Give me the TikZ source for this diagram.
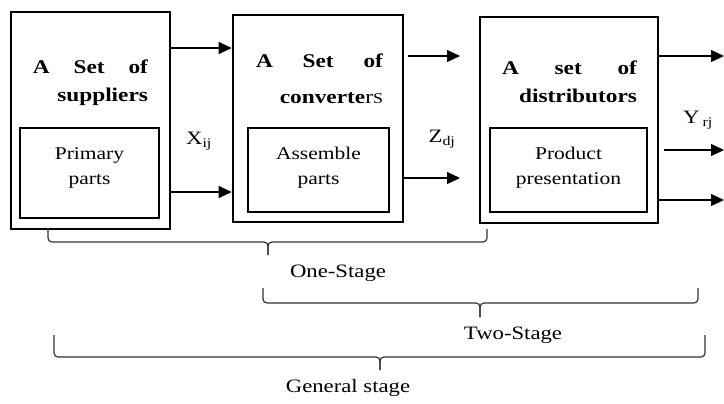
\documentclass[tikz,border=0pt]{standalone}
\usepackage{fontspec}
\setmainfont{Liberation Serif}[FakeStretch=1.2]
\usetikzlibrary{arrows.meta}
\tikzset{
  outerbox/.style 2 args={draw, line width=2.6bp, minimum width=#1, minimum height=#2, inner sep=0pt},
  innerbox/.style 2 args={draw, line width=2.2bp, minimum width=#1, minimum height=#2, inner sep=0pt},
  boxtitle/.style={font=\fontsize{19.5}{28}\selectfont\bfseries, align=right, text width=#1, inner sep=0pt},
  boxnote/.style={font=\fontsize{18}{25}\selectfont, align=center, inner sep=0pt},
  flow/.style={line width=1.2bp, -{Triangle[length=13bp,width=12bp]}},
  stagebrace/.style={line width=1.2bp, draw=black!80, rounded corners=4bp},
  lbl/.style={font=\fontsize{19}{20}\selectfont, inner sep=0pt}
}

\begin{document}
\begin{tikzpicture}[x=1bp,y=-1bp]
\useasboundingbox (0,0) rectangle (724,403);
% the three sets
\node[outerbox={159bp}{217bp}] (sup) at (90.5,120.5) {};
\node[outerbox={170bp}{207bp}] (conv) at (318,118.5) {};
\node[outerbox={178bp}{206bp}] (dist) at (569,120) {};
\node[innerbox={139bp}{90bp}] (supin) at (89.5,173) {};
\node[innerbox={141bp}{84bp}] (convin) at (318.5,170) {};
\node[innerbox={157bp}{84bp}] (distin) at (568.5,170) {};
\node[boxtitle=115bp] (suptitle) at (90.5,83) {\makebox[115bp][s]{A\hfill Set\hfill of}\\suppliers};
\node[boxtitle=127bp] (convtitle) at (319.5,79) {\makebox[127bp][s]{A\hfill Set\hfill of}\\[8bp]converte{\mdseries r\fontsize{15}{15}\selectfont S}};
\node[boxtitle=135bp] (disttitle) at (569.5,82) {\makebox[135bp][s]{A\hfill set\hfill of}\\distributors};
\node[boxnote] (supnote) at (supin |- 0,168) {Primary\\parts};
\node[boxnote] (convnote) at (convin |- 0,168) {Assemble\\parts};
\node[boxnote] (distnote) at (distin |- 0,168) {Product\\presentation};

% flows
\coordinate (zin) at (460,0);
\coordinate (yout) at (724,0);
\draw[flow] (sup.east |- 0,48) -- (conv.west |- 0,48);
\draw[flow] (sup.east |- 0,192) -- (conv.west |- 0,192);
\draw[flow] ([xshift=4bp]conv.east |- 0,56) -- (zin |- 0,56);
\draw[flow] (conv.east |- 0,178) -- (zin |- 0,178);
\draw[flow] (dist.east |- 0,56) -- (yout |- 0,56);
\draw[flow] ([xshift=5bp]dist.east |- 0,150) -- (yout |- 0,150);
\draw[flow] (dist.east |- 0,200) -- (yout |- 0,200);
\node[lbl] (xij) at (199,141) {X\textsubscript{ij}};
\node[lbl] (zdj) at (442,139) {Z\textsubscript{dj}};
\node[lbl] (yrj) at (698,120) {Y\,\textsubscript{rj}};

% stages
\draw[stagebrace] (48,228) -- (48,242) -- (268,242) -- (268,255);
\draw[stagebrace] (487,229) -- (487,242) -- (268,242) -- (268,255);
\draw[stagebrace] (263,288) -- (263,303) -- (480,303) -- (480,317);
\draw[stagebrace] (698,288) -- (698,303) -- (480,303) -- (480,317);
\draw[stagebrace] (54,335) -- (54,357) -- (380,357) -- (380,370);
\draw[stagebrace] (705,335) -- (705,357) -- (380,357) -- (380,370);
\node[lbl] (onestage) at (338,273) {One-Stage};
\node[lbl] (twostage) at (513,335) {Two-Stage};
\node[lbl] (genstage) at (348,388) {General stage};
\end{tikzpicture}
\end{document}
